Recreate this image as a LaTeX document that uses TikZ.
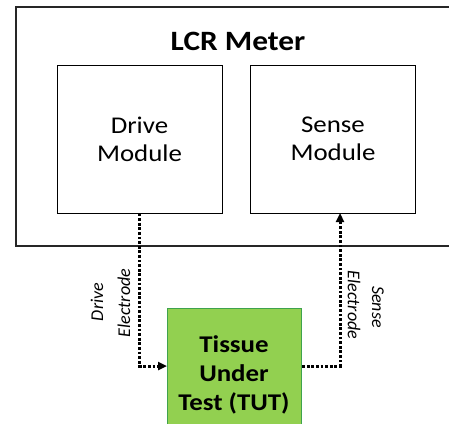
\documentclass[tikz,border=0pt]{standalone}
\usepackage{fontspec}
\setmainfont{Carlito}[FakeStretch=1.12]
\newfontfamily\lblfont{Carlito}
\usetikzlibrary{arrows.meta}
\definecolor{tutfill}{HTML}{92D050}
\definecolor{tutdraw}{HTML}{3FA34D}
\tikzset{
  modbox/.style={draw=black, line width=1pt, minimum width=165pt, minimum height=148pt, inner sep=0pt, align=center, font=\fontsize{24}{28}\selectfont},
  wire/.style={line width=3pt, dash pattern=on 2.8pt off 1.8pt},
  tip/.style={-{Triangle[length=9pt,width=8pt]}},
  elabel/.style={font=\lblfont\fontsize{18}{20}\selectfont\itshape, inner sep=0pt}
}
\begin{document}
\begin{tikzpicture}[x=1pt,y=-1pt]
\useasboundingbox (0,0) rectangle (449,423);
\clip (0,0) rectangle (449,423);
\fill[white] (0,0) rectangle (449,423);
% outer LCR meter box
\draw[line width=1.2pt, draw=black!85] (16,7) rectangle (470,246);
\node[font=\fontsize{28}{32}\selectfont\bfseries] (title) at (238,41) {LCR Meter};
\node[modbox] (drive) at (139.5,139) {Drive\\Module};
\node[modbox] (sense) at (333,139) {Sense\\Module};
\node[draw=tutdraw, fill=tutfill, line width=1.2pt, minimum width=134pt, minimum height=130pt, inner sep=0pt, anchor=north west] (tut) at (167,308) {};
\node[align=center, font=\fontsize{24}{29}\selectfont\bfseries] (tuttext) at (234,375) {Tissue\\Under\\Test (TUT)};
% connectors
\coordinate (d1) at (139.5,366);
\coordinate (s1) at (340,366);
\coordinate (s2) at (340,213);
\draw[wire, tip] (drive.south) -- (d1) -- (tut.west |- d1);
\draw[wire, tip] (tut.east |- s1) -- (s1) -- (s2);
% labels
\node[elabel, rotate=90] (ldrive) at (97,302) {Drive};
\node[elabel, rotate=90] (ldrel) at (124,303) {Electrode};
\node[elabel, rotate=-90] (lsel) at (354,305) {Electrode};
\node[elabel, rotate=-90] (lsense) at (378,307) {Sense};
\end{tikzpicture}
\end{document}
